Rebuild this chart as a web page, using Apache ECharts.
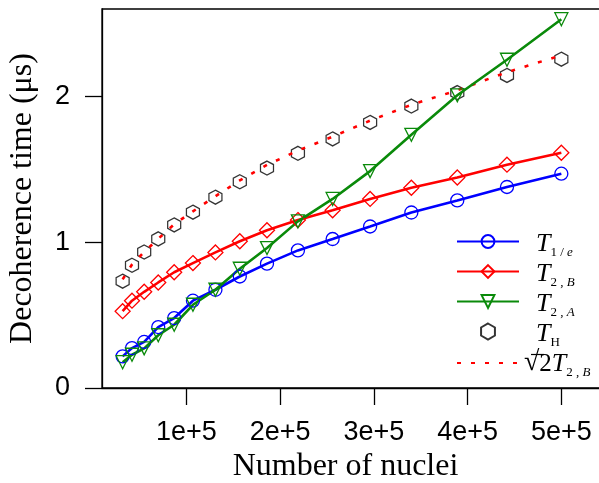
<!DOCTYPE html>
<html>
<head>
<meta charset="utf-8">
<script src="https://cdn.jsdelivr.net/npm/echarts@6/dist/echarts.min.js"></script>
<style>
  html, body { margin: 0; padding: 0; background: #fff; }
  #chart { width: 599px; height: 483px; }
</style>
</head>
<body>
<div id="chart"></div>
<script>
// Number of nuclei in the simulated clusters
const nuclei = [32000, 42000, 55000, 70000, 87000, 107000, 131000, 157000, 186000, 219000, 256000, 296000, 340000, 389000, 442000, 500000];
// Decoherence times in microseconds
const tOneOverE = [0.217, 0.274, 0.316, 0.418, 0.480, 0.599, 0.674, 0.765, 0.853, 0.944, 1.022, 1.108, 1.204, 1.287, 1.379, 1.470];
const t2B = [0.527, 0.599, 0.660, 0.724, 0.794, 0.857, 0.930, 1.007, 1.082, 1.152, 1.219, 1.297, 1.374, 1.444, 1.532, 1.614];
const t2A = [0.177, 0.228, 0.272, 0.362, 0.434, 0.571, 0.674, 0.818, 0.960, 1.143, 1.297, 1.488, 1.737, 2.008, 2.252, 2.530];
const tH = [0.733, 0.842, 0.933, 1.023, 1.119, 1.206, 1.309, 1.415, 1.509, 1.610, 1.709, 1.822, 1.934, 2.027, 2.144, 2.256];
// Axis ticks
const xTicks = [100000, 200000, 300000, 400000, 500000];
const yTicks = [0, 1, 2];

const pairs = (xs, ys) => xs.map((x, i) => [x, ys[i]]);
// the dotted reference curve is sqrt(2) times T2,B
const sqrt2T2B = t2B.map(v => Math.SQRT2 * v);

const SANS = 'Liberation Sans';
const SERIF = 'Liberation Serif';
const hexagon = 'path://M0,-1L0.866,-0.5L0.866,0.5L0,1L-0.866,0.5L-0.866,-0.5Z';
const hollow = 'rgba(255,255,255,0)';

const legendText = {
  'T1e': '{g|}{t|T}{s|1 / }{si|e}',
  'T2B': '{g|}{t|T}{s|2 , }{si|B}',
  'T2A': '{g|}{t|T}{s|2 , }{si|A}',
  'TH': '{g|}{t|T}{s|H}',
  'R2T2B': '{r|√}{r2|2}{t|T}{s|2 , }{si|B}'
};

const chart = echarts.init(document.getElementById('chart'), null, { renderer: 'canvas' });
chart.setOption({
  animation: false,
  backgroundColor: '#ffffff',
  grid: {
    left: 102, top: 9, width: 499, height: 379,
    outerBoundsMode: 'none', containLabel: false,
    show: true, borderColor: '#000', borderWidth: 1.3, backgroundColor: 'transparent'
  },
  xAxis: {
    type: 'value', min: 10000, max: 542300,
    name: 'Number of nuclei', nameLocation: 'middle', nameGap: 58,
    nameTextStyle: { fontFamily: SERIF, fontSize: 32, color: '#000', padding: [0, 12, 0, 0] },
    axisLine: { lineStyle: { color: '#000', width: 1.3 } },
    axisTick: { customValues: xTicks, length: 17, lineStyle: { color: '#000', width: 1.3 } },
    axisLabel: {
      customValues: xTicks, margin: 31,
      formatter: v => (v / 100000) + 'e+5',
      fontFamily: SANS, fontSize: 27, color: '#000'
    },
    splitLine: { show: false }
  },
  yAxis: {
    type: 'value', min: 0, max: 2.6,
    name: 'Decoherence time (μs)', nameLocation: 'middle', nameGap: 63, nameRotate: 90,
    nameTextStyle: { fontFamily: SERIF, fontSize: 32, color: '#000' },
    axisLine: { show: true, lineStyle: { color: '#000', width: 1.3 } },
    axisTick: { show: true, customValues: yTicks, length: 17, lineStyle: { color: '#000', width: 1.3 } },
    axisLabel: { customValues: yTicks, margin: 32, fontFamily: SANS, fontSize: 27, color: '#000' },
    splitLine: { show: false }
  },
  legend: {
    orient: 'vertical', left: 451, top: 224,
    itemWidth: 62, itemHeight: 16, itemGap: 0,
    data: ['T1e', 'T2B', 'T2A', 'TH',
      { name: 'R2T2B', itemStyle: { color: 'rgba(0,0,0,0)', borderWidth: 0 } }],
    formatter: name => legendText[name],
    textStyle: {
      color: '#000',
      rich: {
        g: { width: 12 },
        t: { fontFamily: SERIF, fontStyle: 'italic', fontSize: 26, lineHeight: 25, padding: [2, 0, 0, 0], verticalAlign: 'top' },
        r: { fontFamily: SERIF, fontSize: 28, lineHeight: 28, padding: [0, 0, 0, 0], verticalAlign: 'top' },
        r2: { fontFamily: SERIF, fontSize: 25, lineHeight: 25, padding: [3, 0, 0, 0], verticalAlign: 'top' },
        s: { fontFamily: SERIF, fontSize: 13, lineHeight: 13, padding: [17, 0, 0, 0], verticalAlign: 'top' },
        si: { fontFamily: SERIF, fontStyle: 'italic', fontSize: 13, lineHeight: 13, padding: [17, 0, 0, 0], verticalAlign: 'top' }
      }
    }
  },
  // vinculum of the square root in the last legend entry
  graphic: [{
    type: 'line', silent: true,
    shape: { x1: 531, y1: 354.5, x2: 544, y2: 354.5 },
    style: { stroke: '#000', lineWidth: 1.2 }
  }],
  series: [
    {
      name: 'R2T2B', type: 'line', data: pairs(nuclei, sqrt2T2B),
      symbol: 'none', color: '#ff0000',
      lineStyle: { color: '#ff0000', width: 2.6, type: [4, 10] }, z: 3
    },
    {
      name: 'TH', type: 'scatter', data: pairs(nuclei, tH),
      symbol: hexagon, symbolSize: [13, 14], color: '#000',
      itemStyle: { color: hollow, borderColor: '#000', borderWidth: 1.3 }, z: 2
    },
    {
      name: 'T1e', type: 'line', data: pairs(nuclei, tOneOverE),
      symbol: 'circle', symbolSize: 13, color: '#0000ff',
      lineStyle: { color: '#0000ff', width: 2.6 },
      itemStyle: { color: hollow, borderColor: '#0000ff', borderWidth: 1.3 }
    },
    {
      name: 'T2B', type: 'line', data: pairs(nuclei, t2B),
      symbol: 'diamond', symbolSize: 15, color: '#ff0000',
      lineStyle: { color: '#ff0000', width: 2.6 },
      itemStyle: { color: hollow, borderColor: '#ff0000', borderWidth: 1.3 }
    },
    {
      name: 'T2A', type: 'line', data: pairs(nuclei, t2A),
      symbol: 'triangle', symbolRotate: 180, symbolSize: 13, color: '#0a8a0a',
      lineStyle: { color: '#0a8a0a', width: 2.6 },
      itemStyle: { color: hollow, borderColor: '#0a8a0a', borderWidth: 1.3 }
    }
  ]
});
</script>
</body>
</html>
